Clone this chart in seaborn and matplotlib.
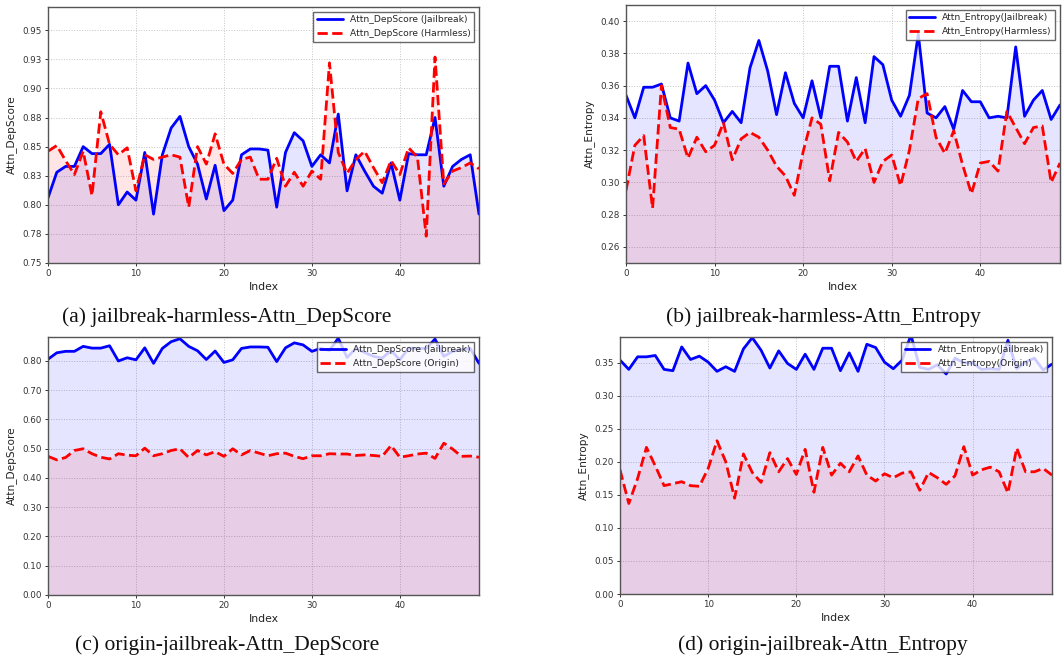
import numpy as np
import pandas as pd
import matplotlib
matplotlib.use("Agg")
import matplotlib.pyplot as plt
import seaborn as sns

index = list(range(50))

dep_jailbreak = [0.806, 0.828, 0.833, 0.833, 0.850, 0.844, 0.844, 0.852, 0.800, 0.811,
                 0.804, 0.845, 0.792, 0.843, 0.866, 0.876, 0.850, 0.835, 0.805, 0.834,
                 0.795, 0.804, 0.843, 0.848, 0.848, 0.847, 0.798, 0.845, 0.862, 0.855,
                 0.833, 0.843, 0.836, 0.878, 0.812, 0.843, 0.829, 0.816, 0.810, 0.836,
                 0.804, 0.844, 0.843, 0.843, 0.875, 0.816, 0.833, 0.839, 0.843, 0.792]
dep_harmless = [0.846, 0.851, 0.838, 0.826, 0.846, 0.808, 0.880, 0.852, 0.843, 0.849,
                0.812, 0.843, 0.839, 0.841, 0.843, 0.841, 0.798, 0.850, 0.835, 0.861,
                0.835, 0.827, 0.839, 0.841, 0.822, 0.822, 0.840, 0.816, 0.828, 0.816,
                0.829, 0.822, 0.922, 0.845, 0.827, 0.839, 0.846, 0.832, 0.819, 0.838,
                0.826, 0.849, 0.841, 0.773, 0.927, 0.818, 0.829, 0.832, 0.836, 0.831]
dep_origin = [0.474, 0.462, 0.470, 0.494, 0.500, 0.483, 0.471, 0.465, 0.483, 0.478,
              0.476, 0.502, 0.476, 0.483, 0.494, 0.500, 0.470, 0.494, 0.479, 0.490,
              0.474, 0.500, 0.479, 0.494, 0.485, 0.476, 0.483, 0.485, 0.474, 0.466,
              0.476, 0.476, 0.483, 0.482, 0.482, 0.477, 0.479, 0.477, 0.474, 0.511,
              0.471, 0.476, 0.482, 0.485, 0.467, 0.519, 0.499, 0.474, 0.475, 0.471]

ent_jailbreak = [0.354, 0.340, 0.359, 0.359, 0.361, 0.340, 0.338, 0.374, 0.355, 0.360,
                 0.351, 0.337, 0.344, 0.337, 0.371, 0.388, 0.369, 0.342, 0.368, 0.349,
                 0.340, 0.363, 0.340, 0.372, 0.372, 0.338, 0.365, 0.337, 0.378, 0.373,
                 0.351, 0.341, 0.354, 0.392, 0.343, 0.340, 0.347, 0.333, 0.357, 0.350,
                 0.350, 0.340, 0.341, 0.340, 0.384, 0.341, 0.351, 0.357, 0.339, 0.348]
ent_harmless = [0.295, 0.323, 0.329, 0.284, 0.360, 0.334, 0.333, 0.315, 0.328, 0.319,
                0.323, 0.337, 0.314, 0.327, 0.331, 0.328, 0.320, 0.310, 0.304, 0.292,
                0.319, 0.340, 0.336, 0.301, 0.331, 0.325, 0.313, 0.321, 0.300, 0.313,
                0.317, 0.298, 0.320, 0.352, 0.355, 0.328, 0.318, 0.332, 0.311, 0.293,
                0.312, 0.313, 0.307, 0.344, 0.334, 0.324, 0.334, 0.335, 0.300, 0.312]
ent_origin = [0.188, 0.137, 0.175, 0.222, 0.194, 0.164, 0.167, 0.170, 0.164, 0.163,
              0.190, 0.232, 0.200, 0.145, 0.212, 0.184, 0.169, 0.214, 0.185, 0.205,
              0.181, 0.219, 0.154, 0.222, 0.180, 0.198, 0.185, 0.209, 0.180, 0.171,
              0.182, 0.176, 0.183, 0.185, 0.157, 0.184, 0.176, 0.166, 0.179, 0.223,
              0.180, 0.188, 0.192, 0.185, 0.153, 0.221, 0.185, 0.185, 0.190, 0.180]

xticks = [0, 10, 20, 30, 40]
yticks_a = [0.75, 0.775, 0.80, 0.825, 0.85, 0.875, 0.90, 0.925, 0.95]
ylabels_a = ["0.75", "0.78", "0.80", "0.83", "0.85", "0.88", "0.90", "0.93", "0.95"]
yticks_b = [0.26, 0.28, 0.30, 0.32, 0.34, 0.36, 0.38, 0.40]
ylabels_b = ["0.26", "0.28", "0.30", "0.32", "0.34", "0.36", "0.38", "0.40"]
yticks_c = [0.0, 0.1, 0.2, 0.3, 0.4, 0.5, 0.6, 0.7, 0.8]
ylabels_c = ["0.00", "0.10", "0.20", "0.30", "0.40", "0.50", "0.60", "0.70", "0.80"]
yticks_d = [0.0, 0.05, 0.10, 0.15, 0.20, 0.25, 0.30, 0.35]
ylabels_d = ["0.00", "0.05", "0.10", "0.15", "0.20", "0.25", "0.30", "0.35"]

sns.set_style("white")
plt.rcParams['font.family'] = ['DejaVu Sans']

W, H = 1062, 658
fig = plt.figure(figsize=(W / 100, H / 100), dpi=100)


def add_ax(l, r, t, b):
    return fig.add_axes([l / W, 1 - b / H, (r - l) / W, (b - t) / H])


def panel(ax, jb, other, jb_label, other_label, ylabel, yt, yl, ylim):
    df = pd.DataFrame({"Index": index, "jb": jb, "other": other})
    ax.fill_between(df["Index"], df["jb"], 0, color="blue", alpha=0.1, lw=0)
    ax.fill_between(df["Index"], df["other"], 0, color="red", alpha=0.1, lw=0)
    sns.lineplot(data=df, x="Index", y="jb", ax=ax, color="blue", lw=2, label=jb_label)
    sns.lineplot(data=df, x="Index", y="other", ax=ax, color="red", lw=2,
                 linestyle="--", label=other_label)
    ax.set_xlim(0, 49)
    ax.set_ylim(*ylim)
    ax.set_xticks(xticks)
    ax.set_yticks(yt)
    ax.set_yticklabels(yl)
    ax.tick_params(axis="both", labelsize=6.3, colors="#333333", length=2.5, width=0.7,
                   direction="out", left=True, bottom=True, pad=2)
    ax.grid(True, linestyle=":", color="#c4c4c4", linewidth=0.7)
    for s in ax.spines.values():
        s.set_color("#555555")
        s.set_linewidth(1.0)
    ax.set_xlabel("Index", fontsize=7.8, color="#222222", labelpad=3)
    ax.set_ylabel(ylabel, fontsize=7.6, color="#222222", labelpad=4)
    leg = ax.legend(loc="upper right", fontsize=6.6, fancybox=False, framealpha=0.8,
                    edgecolor="#444444", borderpad=0.4, handlelength=2.8,
                    borderaxespad=0.5)
    leg.get_frame().set_linewidth(1.0)


ax_a = add_ax(48, 479, 7, 263)
panel(ax_a, dep_jailbreak, dep_harmless, "Attn_DepScore (Jailbreak)",
      "Attn_DepScore (Harmless)", "Attn_DepScore", yticks_a, ylabels_a, (0.75, 0.97))
ax_b = add_ax(626, 1060, 5, 263)
panel(ax_b, ent_jailbreak, ent_harmless, "Attn_Entropy(Jailbreak)",
      "Attn_Entropy(Harmless)", "Attn_Entropy", yticks_b, ylabels_b, (0.25, 0.41))
ax_c = add_ax(48, 479, 337, 595)
panel(ax_c, dep_jailbreak, dep_origin, "Attn_DepScore (Jailbreak)",
      "Attn_DepScore (Origin)", "Attn_DepScore", yticks_c, ylabels_c, (0.0, 0.882))
ax_d = add_ax(620, 1052, 337, 594)
panel(ax_d, ent_jailbreak, ent_origin, "Attn_Entropy(Jailbreak)",
      "Attn_Entropy(Origin)", "Attn_Entropy", yticks_d, ylabels_d, (0.0, 0.389))

captions = [
    (227, 317, "(a) jailbreak-harmless-Attn_DepScore"),
    (823, 317, "(b) jailbreak-harmless-Attn_Entropy"),
    (227, 645, "(c) origin-jailbreak-Attn_DepScore"),
    (823, 645, "(d) origin-jailbreak-Attn_Entropy"),
]
for cx, cy, txt in captions:
    fig.text(cx / W, 1 - cy / H, txt, ha="center", va="center",
             fontsize=15.5, family=["Liberation Serif"], color="#111111")

fig.savefig("out.png", dpi=100)
